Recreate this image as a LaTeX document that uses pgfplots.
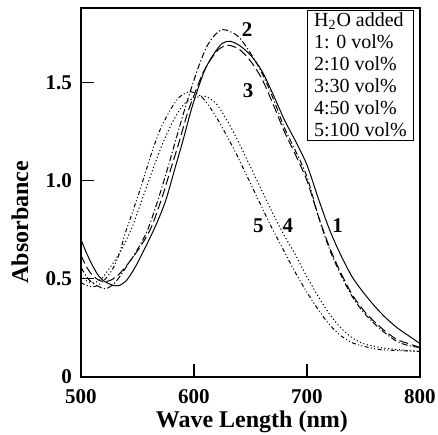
\documentclass[border=0pt]{standalone}
\usepackage{fontspec}
\setmainfont{Liberation Serif}
\usepackage{pgfplots}
\pgfplotsset{compat=1.18}

% absorbance spectra
\pgfplotstableread{
x y
500 0.70
505 0.63
510 0.57
515 0.52
520 0.49
527 0.47
533 0.465
540 0.49
548 0.56
556 0.65
566 0.77
575 0.90
583 1.06
590 1.20
597 1.35
603 1.46
610 1.57
618 1.65
625 1.70
632 1.71
640 1.69
650 1.64
660 1.56
670 1.44
680 1.31
690 1.20
700 1.08
710 0.91
720 0.75
730 0.62
740 0.51
750 0.43
760 0.36
770 0.30
780 0.25
790 0.21
800 0.17
}\curveA
\pgfplotstableread{
x y
500 0.56
505 0.51
510 0.48
516 0.46
522 0.45
530 0.48
540 0.56
550 0.65
559 0.75
568 0.90
576 1.05
583 1.19
590 1.33
597 1.46
604 1.58
611 1.68
618 1.74
625 1.77
632 1.76
640 1.73
650 1.65
660 1.55
670 1.42
680 1.27
690 1.15
700 1.02
710 0.82
720 0.65
730 0.52
740 0.41
750 0.33
760 0.27
770 0.22
780 0.18
790 0.16
800 0.15
}\curveB
\pgfplotstableread{
x y
500 0.62
505 0.56
510 0.52
517 0.49
525 0.49
533 0.52
542 0.58
552 0.66
562 0.76
572 0.92
580 1.07
587 1.20
594 1.34
601 1.45
608 1.55
615 1.62
622 1.67
630 1.69
640 1.67
650 1.61
660 1.52
670 1.39
680 1.25
690 1.13
700 1.00
710 0.82
720 0.66
730 0.53
740 0.42
750 0.34
760 0.28
770 0.23
780 0.19
790 0.17
800 0.15
}\curveC
\pgfplotstableread{
x y
500 0.52
505 0.49
511 0.48
518 0.50
526 0.56
535 0.64
545 0.76
555 0.92
565 1.08
573 1.20
582 1.31
591 1.39
600 1.42
610 1.43
620 1.39
630 1.30
640 1.19
650 1.07
660 0.95
670 0.83
680 0.72
690 0.62
700 0.51
710 0.41
720 0.32
730 0.25
740 0.20
750 0.17
765 0.15
780 0.14
800 0.13
}\curveD
\pgfplotstableread{
x y
500 0.48
506 0.465
512 0.46
520 0.49
528 0.55
534 0.63
539 0.73
545 0.83
552 0.95
558 1.06
563 1.15
570 1.26
578 1.35
586 1.42
594 1.45
600 1.45
608 1.42
618 1.34
628 1.24
638 1.13
648 1.01
658 0.89
668 0.77
678 0.66
688 0.55
698 0.45
708 0.36
718 0.28
728 0.22
738 0.18
748 0.16
765 0.14
800 0.13
}\curveE

\begin{document}
\begin{tikzpicture}
\useasboundingbox (-40.5pt,-28.5pt) rectangle (178.5pt,188.5pt);
\begin{axis}[
  at={(0,0)}, anchor=south west,
  scale only axis,
  width=169.5pt, height=184.5pt,
  xmin=500, xmax=800, ymin=0, ymax=1.88,
  axis line style={line width=1pt},
  tick align=inside,
  xtick pos=left, ytick pos=left,
  major tick length=6.5pt,
  tick style={line width=0.6pt, black},
  xtick={500,600,700,800},
  xticklabels={500,600,700,800},
  ytick={0,0.5,1,1.5},
  yticklabels={0,0.5,1.0,1.5},
  ticklabel style={font=\bfseries\fontsize{10.5}{11}\selectfont},
  xticklabel style={yshift=-2.5pt},
  yticklabel style={xshift=-1pt},
  /pgf/number format/assume math mode=true,
  xlabel={Wave Length (nm)},
  ylabel={Absorbance},
  every axis x label/.style={at={(rel axis cs:0.504,0)}, yshift=-22.5pt, anchor=center,
    font=\bfseries\fontsize{12}{13}\selectfont},
  every axis y label/.style={at={(rel axis cs:0,0.42)}, xshift=-30.5pt, rotate=90, anchor=center,
    font=\bfseries\fontsize{12}{13}\selectfont},
  clip=false,
]
\addplot[black, line width=0.5pt, smooth] table {\curveA};
\addplot[black, line width=0.5pt, smooth, dash pattern=on 3pt off 1.2pt on 0.6pt off 1.2pt] table {\curveB};
\addplot[black, line width=0.5pt, smooth, dash pattern=on 4.5pt off 2pt] table {\curveC};
\addplot[black, line width=0.5pt, smooth, dash pattern=on 0.6pt off 1.2pt] table {\curveD};
\addplot[black, line width=0.5pt, smooth, dash pattern=on 2pt off 1.2pt on 0.5pt off 1.2pt on 0.5pt off 1.2pt] table {\curveE};

\node[font=\bfseries\fontsize{10.5}{10}\selectfont] at (axis cs:727,0.77) {1};
\node[font=\bfseries\fontsize{10.5}{10}\selectfont] at (axis cs:647,1.77) {2};
\node[font=\bfseries\fontsize{10.5}{10}\selectfont] at (axis cs:648,1.46) {3};
\node[font=\bfseries\fontsize{10.5}{10}\selectfont] at (axis cs:683,0.77) {4};
\node[font=\bfseries\fontsize{10.5}{10}\selectfont] at (axis cs:657,0.77) {5};

\node[draw, line width=0.5pt, anchor=north west, align=left, inner xsep=2pt, inner ysep=1.5pt,
  minimum width=53pt, font=\fontsize{10}{11}\selectfont]
  at (axis cs:700,1.872)
  {H\textsubscript{2}O added\\1: 0 vol\%\\2:10 vol\%\\3:30 vol\%\\4:50 vol\%\\5:100 vol\%};
\end{axis}
\end{tikzpicture}
\end{document}
